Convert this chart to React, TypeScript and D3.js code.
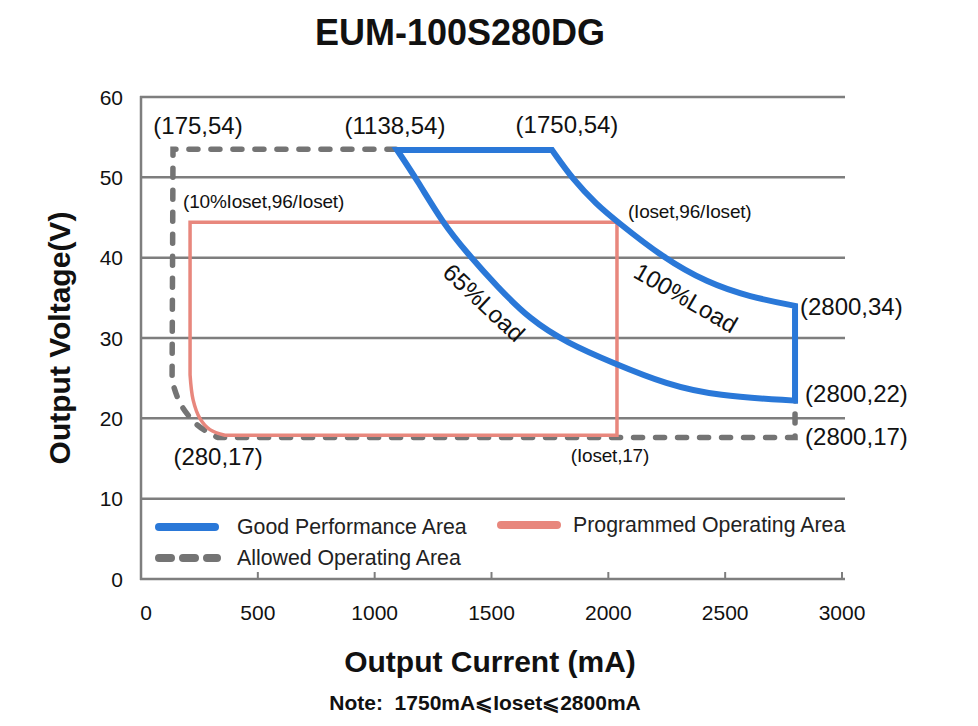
import * as d3 from 'd3';

// axis ticks
const xTicks = [0, 500, 1000, 1500, 2000, 2500, 3000];
const yTicks = [0, 10, 20, 30, 40, 50, 60];

// Good Performance Area (blue)
const goodTop = [
  [1096, 53.4],
  [1759, 53.4],
];
const good100 = [
  [1759, 53.4],
  [1849, 49.7],
  [1951, 46.6],
  [2037, 44.5],
  [2234, 40.0],
  [2422, 36.9],
  [2606, 35.1],
  [2799, 34.0],
];
const goodRight = [
  [2799, 34.0],
  [2799, 22.2],
];
const good65 = [
  [1096, 53.4],
  [1181, 49.7],
  [1292, 44.3],
  [1395, 40.6],
  [1524, 36.4],
  [1665, 32.3],
  [1823, 29.4],
  [2020, 26.9],
  [2251, 24.2],
  [2465, 22.8],
  [2799, 22.2],
];

// Programmed Operating Area (pink)
const progEdges = [
  [210, 25.4],
  [210, 44.4],
  [2037, 44.4],
  [2037, 17.9],
  [359, 17.9],
];
const progCorner = [
  [359, 17.9],
  [295, 18.6],
  [252, 20.0],
  [223, 22.3],
  [210, 25.4],
];

// Allowed Operating Area (gray dashed)
const allowedTop = [
  [1091, 53.5],
  [137, 53.5],
  [133, 24.7],
];
const allowedCorner = [
  [133, 24.7],
  [167, 21.9],
  [240, 19.2],
  [330, 17.6],
];
const allowedBottom = [
  [330, 17.6],
  [2799, 17.6],
  [2799, 22.2],
];

const W = 978;
const H = 726;
const FONT = '"Liberation Sans", Arial, Helvetica, sans-serif';
const BLUE = '#2a78d8';
const PINK = '#e8877d';
const GRAY = '#747474';
const GRID = '#7e7e7e';

const x = d3.scaleLinear().domain([0, 3000]).range([141, 842]);
const y = d3.scaleLinear().domain([0, 60]).range([579, 97]);

const linear = d3
  .line<number[]>()
  .x((d) => x(d[0]))
  .y((d) => y(d[1]));
const smooth = d3
  .line<number[]>()
  .curve(d3.curveBasis)
  .x((d) => x(d[0]))
  .y((d) => y(d[1]));
const curved = d3
  .line<number[]>()
  .curve(d3.curveCatmullRom.alpha(0.5))
  .x((d) => x(d[0]))
  .y((d) => y(d[1]));

// join several generated pieces into one continuous path
const joinPaths = (parts: string[]) =>
  parts.map((p, i) => (i === 0 ? p : 'L' + p.slice(1))).join('');

const goodPath =
  joinPaths([
    linear(goodTop) as string,
    smooth(good100) as string,
    linear(goodRight) as string,
    smooth([...good65].reverse()) as string,
  ]) + 'Z';

const progPath =
  joinPaths([linear(progEdges) as string, curved(progCorner) as string]) + 'Z';

const allowedPath = joinPaths([
  linear(allowedTop) as string,
  curved(allowedCorner) as string,
  linear(allowedBottom) as string,
]);

const App = () => {
  const lbl = { fontFamily: FONT, fill: '#111' };
  return (
    <svg
      width={W}
      height={H}
      style={{ position: 'absolute', left: 0, top: 0, background: '#fff' }}
    >
      <rect width={W} height={H} fill="#fff" />

      <text x={460} y={45} textAnchor="middle" fontFamily={FONT} fontWeight="bold" fontSize={36} fill="#111">
        EUM-100S280DG
      </text>

      {/* grid */}
      {yTicks.map((t) => (
        <line key={'g' + t} x1={x(0) - 1} x2={845} y1={y(t)} y2={y(t)} stroke={GRID} strokeWidth={2.5} />
      ))}
      <line x1={x(0)} x2={x(0)} y1={y(60) - 1} y2={y(0) + 1} stroke={GRID} strokeWidth={2.5} />
      {xTicks.slice(1).map((t) => (
        <line key={'xt' + t} x1={x(t)} x2={x(t)} y1={y(0)} y2={y(0) - 7} stroke={GRID} strokeWidth={2} />
      ))}

      {/* tick labels */}
      {xTicks.map((t) => (
        <text key={'xl' + t} x={x(t) + (t === 0 ? 5 : 0)} y={620} textAnchor="middle" fontFamily={FONT} fontSize={21} fill="#111">
          {t}
        </text>
      ))}
      {yTicks.map((t) => (
        <text key={'yl' + t} x={123} y={y(t)} dy="0.36em" textAnchor="end" fontFamily={FONT} fontSize={21} fill="#111">
          {t}
        </text>
      ))}

      {/* axis titles */}
      <text x={490} y={672} textAnchor="middle" fontFamily={FONT} fontWeight="bold" fontSize={30} fill="#111">
        Output Current (mA)
      </text>
      <text
        transform={`translate(70,338) rotate(-90)`}
        textAnchor="middle"
        fontFamily={FONT}
        fontWeight="bold"
        fontSize={30}
        fill="#111"
      >
        Output Voltage(V)
      </text>

      {/* areas */}
      <path d={allowedPath} fill="none" stroke={GRAY} strokeWidth={5.5} strokeDasharray="9 13" strokeLinecap="round" />
      <path d={progPath} fill="none" stroke={PINK} strokeWidth={3.5} strokeLinejoin="miter" />
      <path d={goodPath} fill="none" stroke={BLUE} strokeWidth={6} strokeLinejoin="miter" />

      {/* annotations */}
      <g {...lbl} fontSize={24}>
        <text x={x(244)} y={y(55.4)} textAnchor="middle">(175,54)</text>
        <text x={x(1087)} y={y(55.4)} textAnchor="middle">(1138,54)</text>
        <text x={x(1823)} y={y(55.5)} textAnchor="middle">(1750,54)</text>
        <text x={x(2820)} y={y(32.9)}>(2800,34)</text>
        <text x={x(2842)} y={y(22.0)}>(2800,22)</text>
        <text x={x(2842)} y={y(16.7)}>(2800,17)</text>
        <text x={x(330)} y={y(14.2)} textAnchor="middle">(280,17)</text>
      </g>
      <g {...lbl} fontSize={19} letterSpacing={-0.2}>
        <text x={x(180)} y={y(46.2)}>(10%Ioset,96/Ioset)</text>
        <text x={x(2084)} y={y(45.0)}>(Ioset,96/Ioset)</text>
        <text x={x(2007)} y={y(14.6)} textAnchor="middle">(Ioset,17)</text>
      </g>
      <g {...lbl} fontSize={24}>
        <text transform={`translate(${x(1468)},${y(34.4)}) rotate(43)`} textAnchor="middle" dominantBaseline="central">
          65%Load
        </text>
        <text transform={`translate(${x(2332)},${y(35.0)}) rotate(30)`} textAnchor="middle" dominantBaseline="central">
          100%Load
        </text>
      </g>

      {/* legend */}
      <line x1={159} x2={215} y1={527} y2={527} stroke={BLUE} strokeWidth={8} strokeLinecap="round" />
      <text x={237} y={534} fontFamily={FONT} fontSize={21.3} fill="#222">Good Performance Area</text>
      <line x1={501} x2={557} y1={525} y2={525} stroke={PINK} strokeWidth={8} strokeLinecap="round" />
      <text x={573} y={532} fontFamily={FONT} fontSize={21.3} fill="#222">Programmed Operating Area</text>
      <line x1={159} x2={217} y1={558} y2={558} stroke={GRAY} strokeWidth={8} strokeDasharray="12 12" strokeLinecap="round" />
      <text x={237} y={565} fontFamily={FONT} fontSize={21.3} fill="#222">Allowed Operating Area</text>

      <text
        x={485}
        y={710}
        textAnchor="middle"
        fontFamily={FONT}
        fontWeight="bold"
        fontSize={21}
        fill="#111"
        style={{ whiteSpace: 'pre' }}
      >
        {'Note:  1750mA⩽Ioset⩽2800mA'}
      </text>
    </svg>
  );
};

export default App;
